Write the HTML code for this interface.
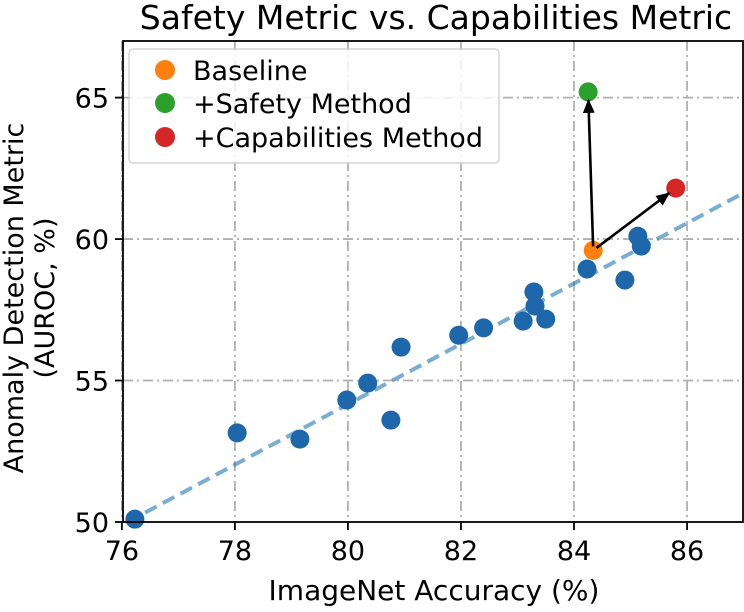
<!DOCTYPE html>
<html><head><meta charset="utf-8"><style>
body{margin:0;background:#fff;}
svg text{font-family:"DejaVu Sans","Liberation Sans",sans-serif;fill:#000;}
</style></head><body>
<svg id="chart" width="744" height="607" xmlns="http://www.w3.org/2000/svg">
<defs><marker id="ah" markerWidth="14" markerHeight="14" refX="13" refY="7" orient="auto" markerUnits="userSpaceOnUse"><path d="M0,1 L14,7 L0,13 z" fill="#000"/></marker></defs>
<g id="grid"></g>
<g id="trend"></g>
<g id="pts"></g>
<g id="arrows"></g>
<rect x="123" y="41" width="620" height="481" fill="none" stroke="#000" stroke-width="1.8"/>
<g id="ticks"></g>
<text x="436" y="29" font-size="33" text-anchor="middle">Safety Metric vs. Capabilities Metric</text>
<text x="434" y="600" font-size="28" text-anchor="middle">ImageNet Accuracy (%)</text>
<text transform="translate(23,298) rotate(-90)" font-size="27" text-anchor="middle">Anomaly Detection Metric</text>
<text transform="translate(54,298) rotate(-90)" font-size="27" text-anchor="middle">(AUROC, %)</text>
<g>
<rect x="129" y="49" width="370" height="114" rx="4" fill="#fff" fill-opacity="0.8" stroke="#ccc" stroke-width="1.2"/>
<g><circle cx="165" cy="70" r="10" fill="#ff7f0e"/><text x="193" y="80" font-size="27">Baseline</text></g>
<g><circle cx="165" cy="103" r="10" fill="#2ca02c"/><text x="193" y="113" font-size="27">+Safety Method</text></g>
<g><circle cx="165" cy="137" r="10" fill="#d62728"/><text x="193" y="147" font-size="27">+Capabilities Method</text></g>
</g>
</svg>
<script>
const modelAcc=[76.23,78.04,79.15,79.98,80.35,80.76,80.94,81.96,82.4,83.1,83.29,83.31,83.5,84.23,84.9,85.13,85.19];
const modelAuroc=[50.1,53.15,52.93,54.31,54.91,53.6,56.18,56.6,56.86,57.1,58.13,57.63,57.17,58.94,58.55,60.1,59.75];
const baseline=[84.34,59.6];
const safety=[84.25,65.2];
const capabilities=[85.8,61.8];
const trendX=[76.1,87];
const trendY=[50,61.63];
const xTicks=[76,78,80,82,84,86];
const yTicks=[50,55,60,65];
const NS="http://www.w3.org/2000/svg";
const X0=123,X1=743,Y0=522,Y1=41,XMIN=76.02,XMAX=86.99,YMIN=50,YMAX=67;
function sx(v){return X0+(v-XMIN)/(XMAX-XMIN)*(X1-X0);}
function sy(v){return Y0-(v-YMIN)/(YMAX-YMIN)*(Y0-Y1);}
function mk(tag,attrs,parent){const e=document.createElementNS(NS,tag);for(const k in attrs)e.setAttribute(k,attrs[k]);document.getElementById(parent).appendChild(e);return e;}
xTicks.forEach(t=>{
 const g=mk('line',{x1:sx(t),x2:sx(t),y1:Y1,y2:Y0,stroke:'#b0b0b0','stroke-width':1.8,'stroke-dasharray':'10,4,2,4'},'grid');
 
 
 mk('line',{x1:sx(t),x2:sx(t),y1:Y0,y2:Y0+8,stroke:'#000','stroke-width':1.8},'ticks');
 const tx=mk('text',{x:sx(t),y:Y0+38,'font-size':27,'text-anchor':'middle'},'ticks');tx.textContent=t;
 
 
});
yTicks.forEach(t=>{
 if(t>YMIN){const g=mk('line',{x1:X0,x2:X1,y1:sy(t),y2:sy(t),stroke:'#b0b0b0','stroke-width':1.8,'stroke-dasharray':'10,4,2,4'},'grid');
 
 }
 mk('line',{x1:X0-8,x2:X0,y1:sy(t),y2:sy(t),stroke:'#000','stroke-width':1.8},'ticks');
 const tx=mk('text',{x:X0-14,y:sy(t)+10,'font-size':27,'text-anchor':'end'},'ticks');tx.textContent=t;
 
 
});
const tl=mk('line',{x1:sx(trendX[0]),y1:sy(trendY[0]),x2:sx(trendX[1]),y2:sy(trendY[1]),stroke:'#1f77b4','stroke-opacity':0.6,'stroke-width':4,'stroke-dasharray':'13,7'},'trend');


modelAcc.forEach((a,i)=>{
 const c=mk('circle',{cx:sx(a),cy:sy(modelAuroc[i]),r:9.5,fill:'#1f67ab'},'pts');
 
 
});
function arrow(p,q){
 const x1=sx(p[0]),y1=sy(p[1]),x2=sx(q[0]),y2=sy(q[1]);
 const d=Math.hypot(x2-x1,y2-y1),ux=(x2-x1)/d,uy=(y2-y1)/d;
 const a=mk('line',{x1:x1+ux*4,y1:y1+uy*4,x2:x2-ux*8,y2:y2-uy*8,stroke:'#000','stroke-width':2.6,'marker-end':'url(#ah)'},'arrows');
 
 
}
arrow(baseline,safety);arrow(baseline,capabilities);
[[baseline,'#ff7f0e','baseline-point'],[safety,'#2ca02c','safety-method-point'],[capabilities,'#d62728','capabilities-method-point']].forEach(([p,col,n])=>{
 const c=mk('circle',{cx:sx(p[0]),cy:sy(p[1]),r:9.5,fill:col},'pts');
 
 
});
</script>
</body></html>
